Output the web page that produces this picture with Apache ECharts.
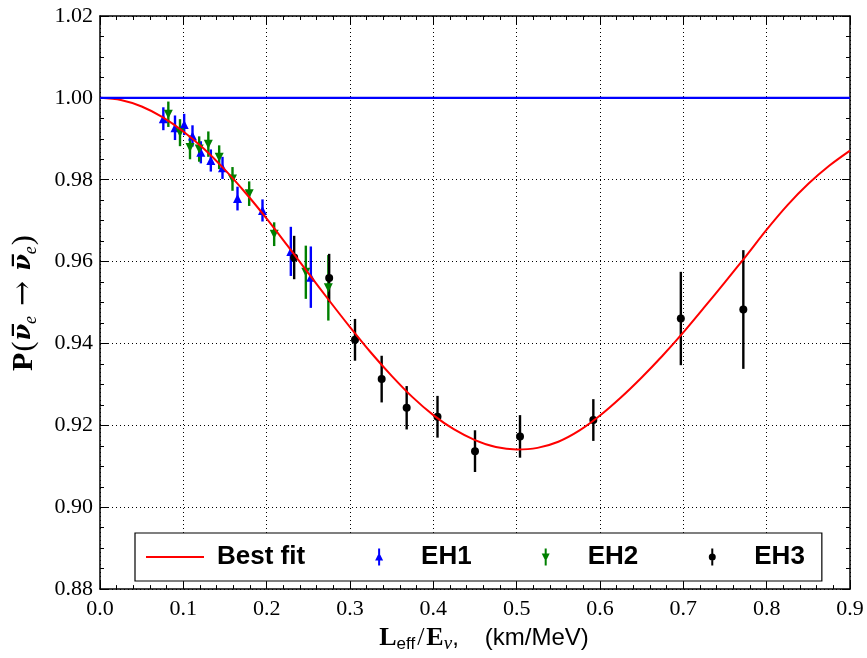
<!DOCTYPE html>
<html>
<head>
<meta charset="utf-8">
<script src="https://cdn.jsdelivr.net/npm/echarts@6/dist/echarts.min.js"></script>
<style>
html,body{margin:0;padding:0;background:#fff;}
#chart{width:867px;height:658px;}
</style>
</head>
<body>
<div id="chart"></div>
<script>
// ---- Data ----
const fitX = [0.000,0.025,0.050,0.075,0.100,0.125,0.150,0.175,0.200,0.225,0.250,0.275,0.300,0.325,0.350,0.375,0.400,0.425,0.450,0.475,0.500,0.525,0.550,0.575,0.600,0.625,0.650,0.675,0.700,0.725,0.750,0.775,0.800,0.825,0.850,0.875,0.900];
const fitY = [1.0000,0.9995,0.9979,0.9953,0.9918,0.9875,0.9824,0.9767,0.9705,0.9639,0.9572,0.9505,0.9440,0.9378,0.9321,0.9269,0.9225,0.9190,0.9164,0.9147,0.9141,0.9145,0.9160,0.9187,0.9224,0.9268,0.9317,0.9370,0.9427,0.9488,0.9550,0.9613,0.9678,0.9738,0.9790,0.9834,0.9871];

const refX = [0.0, 0.9];
const refY = [1.0, 1.0];

const eh1X   = [0.076,0.090,0.101,0.111,0.121,0.133,0.147,0.165,0.195,0.229,0.253];
const eh1Y   = [0.9949,0.9927,0.9935,0.9907,0.9867,0.9847,0.9829,0.9754,0.9725,0.9625,0.9562];
const eh1Err = [0.0028,0.0030,0.0026,0.0026,0.0027,0.0027,0.0027,0.0029,0.0027,0.0060,0.0075];

const eh2X   = [0.082,0.096,0.108,0.119,0.130,0.143,0.159,0.179,0.209,0.247,0.274];
const eh2Y   = [0.9960,0.9915,0.9879,0.9875,0.9887,0.9855,0.9802,0.9766,0.9667,0.9574,0.9536];
const eh2Err = [0.0031,0.0033,0.0029,0.0031,0.0031,0.0029,0.0029,0.0030,0.0029,0.0065,0.0080];

const eh3X   = [0.233,0.275,0.306,0.338,0.368,0.405,0.450,0.504,0.592,0.697,0.772];
const eh3Y   = [0.9610,0.9560,0.9409,0.9313,0.9243,0.9221,0.9137,0.9173,0.9213,0.9461,0.9483];
const eh3Err = [0.0053,0.0059,0.0051,0.0057,0.0053,0.0051,0.0051,0.0052,0.0051,0.0114,0.0145];

const xTickStep = 0.1, xMin = 0.0, xMax = 0.9;
const yTickStep = 0.02, yMin = 0.88, yMax = 1.02;

const seriesNames = ['Best fit', 'EH1', 'EH2', 'EH3'];

// ---- Styling ----
const RED = '#ff0000', BLUE = '#0000ff', GREEN = '#008000', BLACK = '#000000';
const serif = '"Liberation Serif", "Times New Roman", serif';
const sans = '"Liberation Sans", Arial, sans-serif';
const dejavu = '"DejaVu Serif", serif';

function pairs(xs, ys) { return xs.map((x, i) => [x, ys[i]]); }

function errBars(name, xs, ys, es, color) {
  return {
    type: 'custom', name: name, silent: true,
    data: xs.map((x, i) => [x, ys[i], es[i]]),
    encode: { x: 0, y: 1 },
    renderItem: function (params, api) {
      const x = api.value(0), y = api.value(1), e = api.value(2);
      const a = api.coord([x, y - e]), b = api.coord([x, y + e]);
      return { type: 'line', shape: { x1: a[0], y1: a[1], x2: b[0], y2: b[1] },
               style: { stroke: color, lineWidth: 2.4 } };
    }
  };
}
function points(name, xs, ys, color, symbol, size, rot) {
  return {
    type: 'scatter', name: name, silent: true,
    data: pairs(xs, ys), symbol: symbol, symbolSize: size, symbolRotate: rot || 0,
    itemStyle: { color: color, opacity: 1 }
  };
}

const tickRich = { t: { fontFamily: serif, fontSize: 22, color: BLACK, fontWeight: 'normal' } };
const axisLineStyle = { color: BLACK, width: 1.5 };
function xAxisCfg(pos, showLabels) {
  return {
    type: 'value', position: pos, min: xMin, max: xMax, interval: xTickStep,
    axisLine: { show: true, onZero: false, lineStyle: axisLineStyle },
    axisTick: { show: true, inside: true, length: 8, lineStyle: { color: BLACK, width: 1 } },
    minorTick: { show: true, splitNumber: 5, length: 4, lineStyle: { color: BLACK, width: 1 } },
    splitLine: { show: showLabels, lineStyle: { color: BLACK, width: 1, type: [1, 3] } },
    axisLabel: { show: showLabels, margin: 9, color: BLACK, fontFamily: serif, fontSize: 22,
                 rich: tickRich, formatter: v => '{t|' + v.toFixed(1) + '}' }
  };
}
function yAxisCfg(pos, showLabels) {
  return {
    type: 'value', position: pos, min: yMin, max: yMax, interval: yTickStep,
    axisLine: { show: true, onZero: false, lineStyle: axisLineStyle },
    axisTick: { show: true, inside: true, length: 8, lineStyle: { color: BLACK, width: 1 } },
    minorTick: { show: true, splitNumber: 4, length: 4, lineStyle: { color: BLACK, width: 1 } },
    splitLine: { show: showLabels, lineStyle: { color: BLACK, width: 1, type: [1, 3] } },
    axisLabel: { show: showLabels, margin: 7, color: BLACK, fontFamily: serif, fontSize: 22,
                 rich: tickRich, formatter: v => '{t|' + v.toFixed(2) + '}' }
  };
}

const xAxisBottom = xAxisCfg('bottom', true);
xAxisBottom.name = '{L|L}{sub|eff}{sl|/}{L|E}{nu|ν}{c|,}{s|(km/MeV)}';
xAxisBottom.nameLocation = 'middle';
xAxisBottom.nameGap = 30;
xAxisBottom.nameTextStyle = {
  color: BLACK, fontFamily: serif, padding: [0, 0, 0, 18],
  rich: {
    L:  { fontFamily: serif, fontWeight: 'bold', fontSize: 26, lineHeight: 30, color: BLACK },
    sl: { fontFamily: serif, fontSize: 26, lineHeight: 30, color: BLACK, padding: [0, 2, 0, 2] },
    sub:{ fontFamily: sans, fontSize: 17, lineHeight: 16, verticalAlign: 'bottom', color: BLACK },
    nu: { fontFamily: serif, fontStyle: 'italic', fontSize: 19, lineHeight: 16, verticalAlign: 'bottom', color: BLACK },
    c:  { fontFamily: sans, fontSize: 24, lineHeight: 30, color: BLACK, padding: [0, 26, 0, 0] },
    s:  { fontFamily: sans, fontSize: 24, lineHeight: 30, color: BLACK }
  }
};

const yAxisLeft = yAxisCfg('left', true);
yAxisLeft.name = '{P|P}{r|(}{nu|ν\u0305}{sub|e}{ar|→}{nu|ν\u0305}{sub|e}{r|)}';
yAxisLeft.nameLocation = 'middle';
yAxisLeft.nameRotate = 90;
yAxisLeft.nameGap = 60;
yAxisLeft.nameTextStyle = {
  color: BLACK, fontFamily: serif,
  rich: {
    P:  { fontFamily: serif, fontWeight: 'bold', fontSize: 30, lineHeight: 32, color: BLACK },
    r:  { fontFamily: serif, fontSize: 30, lineHeight: 32, color: BLACK, padding: [0, 1, 0, 1] },
    nu: { fontFamily: dejavu, fontWeight: 'bold', fontStyle: 'italic', fontSize: 24, lineHeight: 32, color: BLACK },
    sub:{ fontFamily: serif, fontStyle: 'italic', fontSize: 18, lineHeight: 18, verticalAlign: 'bottom', color: BLACK },
    ar: { fontFamily: dejavu, fontSize: 30, lineHeight: 32, color: BLACK, padding: [0, 10, 0, 10] }
  }
};

const box = 'M0 0 M58 18 ';
const iconLine = 'path://' + box + 'M0 8.1 L58 8.1 L58 9.9 L0 9.9 Z';
const iconEH1  = 'path://' + box + 'M28 0.5 L30 0.5 L30 17.5 L28 17.5 Z M25 12.5 L29 4.5 L33 12.5 Z';
const iconEH2  = 'path://' + box + 'M28 0.5 L30 0.5 L30 17.5 L28 17.5 Z M25 5.5 L33 5.5 L29 13.5 Z';
const iconEH3  = 'path://' + box + 'M28 0.5 L30 0.5 L30 17.5 L28 17.5 Z M25.5 9 A3.5 3.5 0 1 1 32.5 9 A3.5 3.5 0 1 1 25.5 9 Z';

const option = {
  animation: false,
  backgroundColor: '#ffffff',
  textStyle: { fontFamily: serif },
  grid: { left: 100, right: 17, top: 16, bottom: 64, containLabel: false },
  xAxis: [xAxisBottom, xAxisCfg('top', false)],
  yAxis: [yAxisLeft, yAxisCfg('right', false)],
  legend: {
    left: 135, top: 533, orient: 'horizontal',
    padding: [11, 17, 11, 11], itemGap: 45, itemWidth: 58, itemHeight: 18,
    borderColor: BLACK, borderWidth: 1.2, borderRadius: 0, backgroundColor: '#fff',
    selectedMode: false,
    textStyle: { fontFamily: sans, fontWeight: 'bold', fontSize: 26, color: BLACK, padding: [0, 0, 0, 8] },
    data: [
      { name: seriesNames[0], icon: iconLine, itemStyle: { color: RED, borderWidth: 0 } },
      { name: seriesNames[1], icon: iconEH1, itemStyle: { color: BLUE, borderWidth: 0 } },
      { name: seriesNames[2], icon: iconEH2, itemStyle: { color: GREEN, borderWidth: 0 } },
      { name: seriesNames[3], icon: iconEH3, itemStyle: { color: BLACK, borderWidth: 0 } }
    ]
  },
  series: [
    { type: 'line', name: seriesNames[0], data: pairs(fitX, fitY), smooth: 0.3, symbol: 'none', silent: true,
      lineStyle: { color: RED, width: 2 }, itemStyle: { color: RED } },
    { type: 'line', name: 'No oscillation', data: pairs(refX, refY), symbol: 'none', silent: true,
      lineStyle: { color: BLUE, width: 2.4 }, itemStyle: { color: BLUE } },
    errBars(seriesNames[1], eh1X, eh1Y, eh1Err, BLUE),
    points(seriesNames[1], eh1X, eh1Y, BLUE, 'triangle', 9, 0),
    errBars(seriesNames[2], eh2X, eh2Y, eh2Err, GREEN),
    points(seriesNames[2], eh2X, eh2Y, GREEN, 'triangle', 9, 180),
    errBars(seriesNames[3], eh3X, eh3Y, eh3Err, BLACK),
    points(seriesNames[3], eh3X, eh3Y, BLACK, 'circle', 8, 0)
  ]
};

const chart = echarts.init(document.getElementById('chart'), null, { renderer: 'canvas' });
chart.setOption(option);
</script>
</body>
</html>
